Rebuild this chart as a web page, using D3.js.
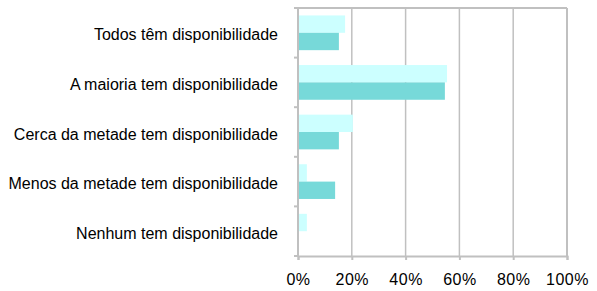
<!DOCTYPE html>
<html>
<head>
<meta charset="utf-8">
<script src="https://cdn.jsdelivr.net/npm/d3@7"></script>
<style>
  body { margin: 0; background: #fff; }
  text { font-family: "Liberation Sans", Arial, sans-serif; fill: #000; }
</style>
</head>
<body>
<svg id="chart" width="597" height="291"></svg>
<script>
// categories, top to bottom
var categories = [
    "Todos têm disponibilidade",
    "A maioria tem disponibilidade",
    "Cerca da metade tem disponibilidade",
    "Menos da metade tem disponibilidade",
    "Nenhum tem disponibilidade"
];
// two series (percent), light bar drawn above dark bar
var seriesLight = [17.5, 55.4, 20.4, 3.3, 3.3];
var seriesDark = [15.2, 54.6, 15.2, 13.8, 0];
var xTicks = [0, 20, 40, 60, 80, 100];

var svg = d3.select("#chart"),
    margin = { top: 8, right: 30, bottom: 35, left: 298 },
    width = 597 - margin.left - margin.right,
    height = 291 - margin.top - margin.bottom,
    grey = "#c0c0c0";

var g = svg.append("g")
    .attr("transform", "translate(" + margin.left + "," + margin.top + ")");

var x = d3.scaleLinear().domain([0, 100]).range([0, width]);
var y = d3.scaleBand().domain(categories).range([0, height]).paddingInner(0.3).paddingOuter(0.15);
var sub = d3.scaleBand().domain(["light", "dark"]).range([0, y.bandwidth()]);

// gridlines
g.selectAll(".grid")
    .data(xTicks.slice(1))
    .enter()
    .append("line")
    .attr("class", "grid")
    .attr("x1", function (d) { return x(d); })
    .attr("x2", function (d) { return x(d); })
    .attr("y1", 0)
    .attr("y2", height)
    .attr("stroke", grey)
    .attr("stroke-width", 1.5);

// plot frame (top and right)
g.append("line").attr("x1", 0).attr("x2", width).attr("y1", 0).attr("y2", 0)
    .attr("stroke", grey).attr("stroke-width", 2);
g.append("line").attr("x1", width).attr("x2", width).attr("y1", 0).attr("y2", height)
    .attr("stroke", grey).attr("stroke-width", 2);

var rows = categories.map(function (c, i) {
    return { cat: c, light: seriesLight[i], dark: seriesDark[i] };
});

var groups = g.selectAll(".row")
    .data(rows)
    .enter()
    .append("g")
    .attr("class", "row")
    .attr("transform", function (d) { return "translate(0," + y(d.cat) + ")"; });

groups.append("rect")
    .attr("x", 0)
    .attr("y", sub("light"))
    .attr("height", sub.bandwidth())
    .attr("width", function (d) { return x(d.light); })
    .attr("fill", "#ccffff");

groups.append("rect")
    .attr("x", 0)
    .attr("y", sub("dark"))
    .attr("height", sub.bandwidth())
    .attr("width", function (d) { return x(d.dark); })
    .attr("fill", "#77d9d9");

// y axis: ticks at category boundaries
var yAxisG = g.append("g");
var bounds = d3.range(categories.length + 1).map(function (i) { return i * height / categories.length; });
yAxisG.selectAll(".ytick")
    .data(bounds)
    .enter()
    .append("line")
    .attr("x1", -4).attr("x2", 0)
    .attr("y1", function (d) { return d; })
    .attr("y2", function (d) { return d; })
    .attr("stroke", grey).attr("stroke-width", 2);
yAxisG.append("line").attr("x1", 0).attr("x2", 0).attr("y1", 0).attr("y2", height)
    .attr("stroke", grey).attr("stroke-width", 2);
yAxisG.selectAll(".ylabel")
    .data(categories)
    .enter()
    .append("text")
    .attr("x", -20)
    .attr("y", function (d) { return y(d) + y.bandwidth() / 2 + 2; })
    .attr("dy", "0.35em")
    .style("text-anchor", "end")
    .style("font-size", "16px")
    .text(function (d) { return d; });

// x axis
var xAxis = d3.axisBottom(x)
    .tickValues(xTicks)
    .tickSize(4)
    .tickPadding(14)
    .tickFormat(function (d) { return d + "%"; });

var xAxisG = g.append("g")
    .attr("transform", "translate(0," + height + ")")
    .call(xAxis);
xAxisG.select(".domain").attr("stroke", grey).attr("stroke-width", 2);
xAxisG.selectAll(".tick line").attr("stroke", grey).attr("stroke-width", 2);
xAxisG.selectAll(".tick text")
    .style("font-family", "'Liberation Sans', Arial, sans-serif")
    .style("font-size", "16px")
    .style("letter-spacing", "0.5px")
    .attr("fill", "#000");
</script>
</body>
</html>
